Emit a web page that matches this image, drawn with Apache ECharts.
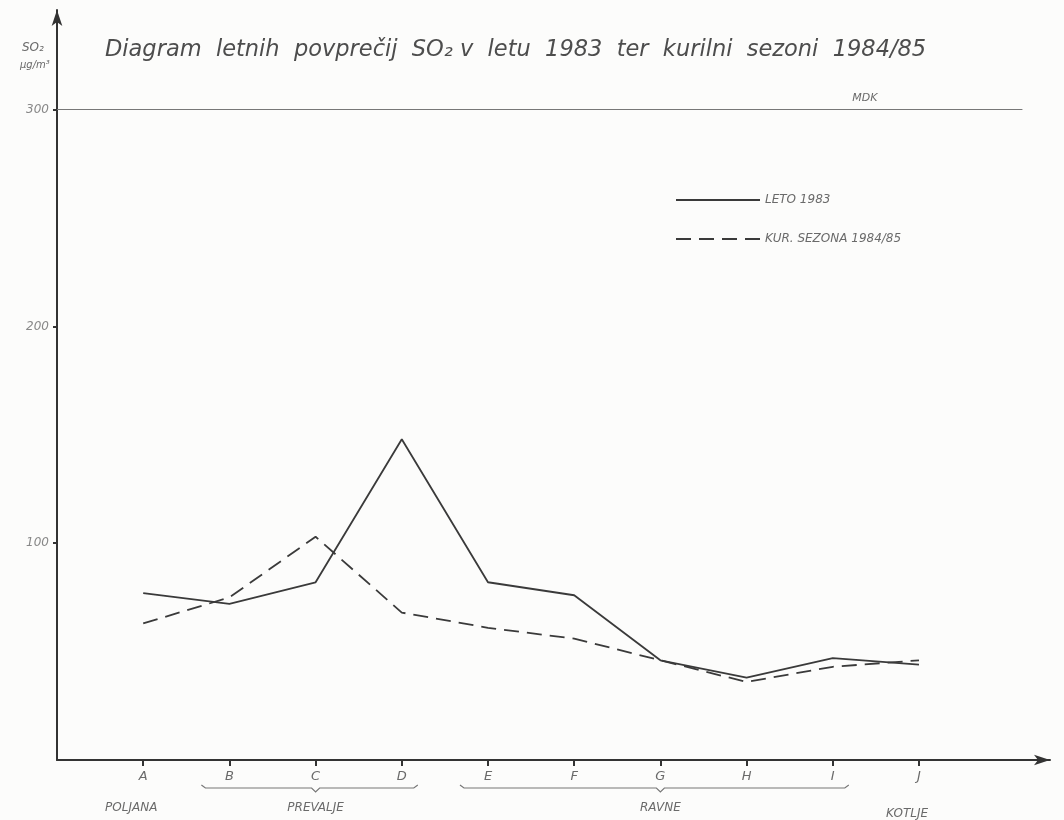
<!DOCTYPE html>
<html><head><meta charset="utf-8">
<script src="https://cdn.jsdelivr.net/npm/echarts@6/dist/echarts.min.js"></script>
<style>html,body{margin:0;padding:0;background:#fcfcfb;}#c{width:1064px;height:820px;}</style>
</head><body><div id="c"></div>
<script>
const categories = ['A','B','C','D','E','F','G','H','I','J'];
const leto1983 = [77, 72, 82, 148, 82, 76, 46, 38, 47, 44];
const kurSezona = [63, 75, 103, 68, 61, 56, 46, 36, 43, 46];
const yTicks = [100, 200, 300];
const mdk = 300;
const regionNames = ['POLJANA', 'PREVALJE', 'RAVNE', 'KOTLJE'];
const regionFrom = [0, 1, 4, 9];
const regionTo = [0, 3, 8, 9];

const ink = '#333';
const soft = '#6a6a6a';
const fontFam = '"DejaVu Sans", sans-serif';
const toPts = arr => arr.map((v, i) => [i + 1, v]);

const chart = echarts.init(document.getElementById('c'));
chart.setOption({
  backgroundColor: '#fcfcfb',
  animation: false,
  title: {
    text: 'Diagram  letnih  povprečij  SO₂ v  letu  1983  ter  kurilni  sezoni  1984/85',
    left: 100, top: 34,
    textStyle: { fontFamily: fontFam, fontStyle: 'italic', fontWeight: 'normal', fontSize: 22.5, color: '#4d4d4d' }
  },
  legend: {
    left: 670, top: 189, orient: 'vertical', itemWidth: 84, itemHeight: 14, itemGap: 27,
    itemStyle: { opacity: 0 },
    textStyle: { fontFamily: fontFam, fontStyle: 'italic', fontSize: 12, color: soft },
    data: ['LETO 1983', 'KUR. SEZONA 1984/85']
  },
  grid: { left: 57, right: 14, top: 10, bottom: 60 },
  xAxis: {
    type: 'value', min: 0, max: 11.52,
    axisLine: { show: true, symbol: ['none', 'arrow'], symbolSize: [8, 16], lineStyle: { color: ink, width: 2 } },
    axisTick: { show: true, customValues: categories.map((c, i) => i + 1), length: 6, inside: false, lineStyle: { color: ink, width: 2 } },
    axisLabel: { customValues: categories.map((c, i) => i + 1), formatter: v => categories[Math.round(v) - 1] || '', margin: 10,
      fontFamily: fontFam, fontStyle: 'italic', fontSize: 13, color: soft },
    splitLine: { show: false }
  },
  yAxis: {
    type: 'value', min: 0, max: 346,
    axisLine: { show: true, symbol: ['none', 'arrow'], symbolSize: [8, 16], lineStyle: { color: ink, width: 2 } },
    axisTick: { show: true, customValues: yTicks, length: 4, lineStyle: { color: ink, width: 2 } },
    axisLabel: { customValues: yTicks, margin: 8, fontFamily: fontFam, fontStyle: 'italic', fontSize: 12, color: '#888' },
    splitLine: { show: false }
  },
  series: [
    {
      name: 'LETO 1983', type: 'line', data: toPts(leto1983), symbol: 'none',
      lineStyle: { color: '#3a3a3a', width: 1.8, type: 'solid' }, itemStyle: { color: '#3a3a3a' },
      markLine: {
        silent: true, symbol: 'none',
        lineStyle: { color: '#777', width: 1.2, type: 'solid' },
        label: { show: true, position: 'insideEndTop', formatter: 'MDK', distance: [145, 6],
          fontFamily: fontFam, fontStyle: 'italic', fontSize: 11, color: soft },
        data: [[{ coord: [0, mdk] }, { coord: [11.2, mdk] }]]
      }
    },
    {
      name: 'KUR. SEZONA 1984/85', type: 'line', data: toPts(kurSezona), symbol: 'none',
      lineStyle: { color: '#3a3a3a', width: 1.8, type: [15, 8] }, itemStyle: { color: '#3a3a3a' }
    }
  ]
});

// axis unit label, region labels and braces under the x axis (positioned through the axis scale)
const g = [
  { type: 'text', silent: true, x: 22, y: 42, style: { text: 'SO₂', fontFamily: fontFam, fontStyle: 'italic', fontSize: 12, fill: soft } },
  { type: 'text', silent: true, x: 20, y: 60, style: { text: 'µg/m³', fontFamily: fontFam, fontStyle: 'italic', fontSize: 10, fill: soft } }
];
const yBrace = 788, yName = 802;
regionNames.forEach((name, k) => {
  const a = chart.convertToPixel({ gridIndex: 0 }, [regionFrom[k] + 1, 0])[0];
  const b = chart.convertToPixel({ gridIndex: 0 }, [regionTo[k] + 1, 0])[0];
  const mid = (a + b) / 2;
  if (regionTo[k] > regionFrom[k]) {
    const l = a - 28, r = b + 16;
    g.push({ type: 'polyline', silent: true, shape: { points: [[l, yBrace - 3], [l + 4, yBrace], [mid - 4, yBrace], [mid, yBrace + 4], [mid + 4, yBrace], [r - 4, yBrace], [r, yBrace - 3]] },
      style: { stroke: '#777', lineWidth: 1.2, fill: null } });
  }
  g.push({ type: 'text', silent: true, x: mid - (regionTo[k] > regionFrom[k] ? 0 : 12), y: yName + (k === 3 ? 6 : 0),
    style: { text: name, align: 'center', fontFamily: fontFam, fontStyle: 'italic', fontSize: 12, fill: soft } });
});
chart.setOption({ graphic: g });
</script></body></html>
